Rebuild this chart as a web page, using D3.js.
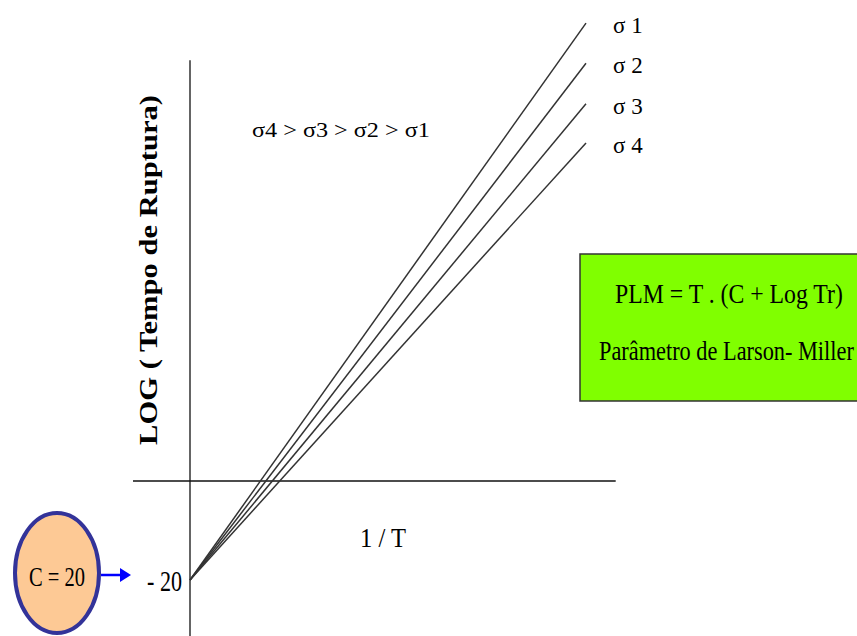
<!DOCTYPE html>
<html>
<head>
<meta charset="utf-8">
<script src="https://cdn.jsdelivr.net/npm/d3@7"></script>
<style>
  body { margin: 0; background: #fff; }
  svg { display: block; font-family: "Liberation Serif", "Times New Roman", serif; }
</style>
</head>
<body>
<div id="chart"></div>
<script>
// dados do diagrama (1/T no eixo x, log Tr no eixo y)
var series = ['σ 1', 'σ 2', 'σ 3', 'σ 4'];
var invT = [0, 1];
var sigma1 = [-20, 92.5];
var sigma2 = [-20, 84.4];
var sigma3 = [-20, 76.2];
var sigma4 = [-20, 68.3];
var xDomainAxis = [-0.144, 1.075];
var yTopAxis = 85;
var C = 20;

var width = 857, height = 636;
var svg = d3.select('#chart').append('svg')
    .attr('width', width).attr('height', height);

var x = d3.scaleLinear().domain([0, 1]).range([190, 586]);
var y = d3.scaleLinear().domain([-20, 0]).range([580, 481]);

// texto condensado: mede a largura natural e comprime em x
function squeezed(px, py, txt, size, w, rot, bold) {
    var t = svg.append('text')
        .style('font-size', size + 'px')
        .style('font-weight', bold ? 'bold' : 'normal')
        .text(txt);
    var k = w / t.node().getComputedTextLength();
    if (rot) {
        t.attr('text-anchor', 'middle')
         .attr('transform', 'translate(' + px + ',' + py + ') rotate(-90) scale(' + k + ',1)');
    } else {
        t.attr('transform', 'translate(' + px + ',' + py + ') scale(' + k + ',1)');
    }
    return t;
}

// eixos
svg.append('line')
    .attr('x1', x(xDomainAxis[0])).attr('x2', x(xDomainAxis[1]))
    .attr('y1', y(0)).attr('y2', y(0))
    .attr('stroke', '#111').attr('stroke-width', 1.3);
svg.append('line')
    .attr('x1', x(0)).attr('x2', x(0))
    .attr('y1', y(yTopAxis)).attr('y2', height)
    .attr('stroke', '#111').attr('stroke-width', 1.3);

// retas de tensao
var lineData = [sigma1, sigma2, sigma3, sigma4].map(function(s, i) {
    return { name: series[i], pts: invT.map(function(t, j) { return [t, s[j]]; }) };
});
var line = d3.line()
    .x(function(d) { return x(d[0]); })
    .y(function(d) { return y(d[1]); });

svg.selectAll('path.sig').data(lineData)
    .join('path')
    .attr('class', 'sig')
    .attr('d', function(d) { return line(d.pts); })
    .attr('fill', 'none')
    .attr('stroke', '#333')
    .attr('stroke-width', 1.5);

svg.selectAll('text.sig').data(lineData)
    .join('text')
    .attr('class', 'sig')
    .attr('x', 613)
    .attr('y', function(d) { return y(d.pts[1][1]) + 10; })
    .style('font-size', '23px')
    .text(function(d) { return d.name; });

// textos
squeezed(252, 137, 'σ4 > σ3 > σ2 > σ1', 22, 178);
squeezed(157, 270, 'LOG ( Tempo de Ruptura)', 26, 350, true, true);
squeezed(360, 547, '1 / T', 28, 46);
squeezed(147, 591, '- ' + C, 29, 35);

// caixa verde
svg.append('rect')
    .attr('x', 580).attr('y', 254)
    .attr('width', 290).attr('height', 147)
    .attr('fill', '#80ff00')
    .attr('stroke', '#333').attr('stroke-width', 1.5);
squeezed(615, 303, 'PLM = T . (C + Log Tr)', 28, 228);
squeezed(599, 360, 'Parâmetro de Larson- Miller', 28, 255);

// circulo C = 20
svg.append('ellipse')
    .attr('cx', 57).attr('cy', 573)
    .attr('rx', 42).attr('ry', 60)
    .attr('fill', '#fdc995')
    .attr('stroke', '#333399').attr('stroke-width', 4);
squeezed(29, 586, 'C = ' + C, 28, 56);

// seta
svg.append('line')
    .attr('x1', 101).attr('x2', 121)
    .attr('y1', 575).attr('y2', 575)
    .attr('stroke', '#0000ff').attr('stroke-width', 2.5);
svg.append('path')
    .attr('d', 'M120,568 L131,575 L120,582 Z')
    .attr('fill', '#0000ff');
</script>
</body>
</html>
